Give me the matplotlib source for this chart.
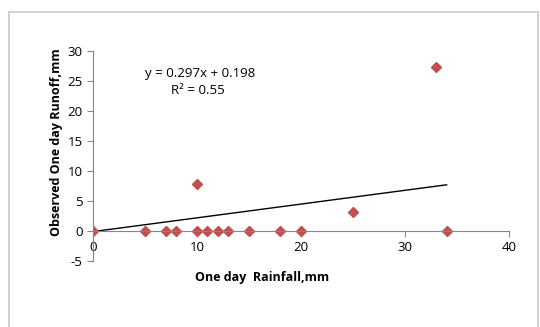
import matplotlib.pyplot as plt
from matplotlib.patches import Rectangle

# rainfall vs observed runoff (mm)
rainfall = [0, 5, 7, 8, 10, 10, 11, 12, 13, 15, 18, 20, 25, 33, 34]
runoff = [0, 0, 0, 0, 0, 7.9, 0, 0, 0, 0, 0, 0, 3.1, 27.4, 0]

# trend line as drawn in the chart
trend_x = [0, 34]
trend_y = [-0.1, 7.7]

x_ticks = [0, 10, 20, 30, 40]
y_ticks = [-5, 0, 5, 10, 15, 20, 25, 30]

plt.rcParams['font.family'] = ['Open Sans', 'DejaVu Sans']
plt.rcParams['axes.unicode_minus'] = False

fig = plt.figure(figsize=(5.4, 3.27), dpi=100)

## outer chart frame
fig.patches.append(Rectangle((9/540, -0.1), 529/540, 1.1 - 12/327,
                             transform=fig.transFigure, fill=False,
                             edgecolor="#c8c8c8", linewidth=1.2))

ax = fig.add_axes([93/540, 1 - 261/327, 416/540, 210/327])

ax.plot(trend_x, trend_y, color="black", linewidth=1)
ax.plot(rainfall, runoff, linestyle="none", marker="D", markersize=5,
        color="#C0504D")

ax.set_xlim(0, 40)
ax.set_ylim(-5, 30)
ax.set_xticks(x_ticks)
ax.set_yticks(y_ticks)

for s in ["top", "right"]:
    ax.spines[s].set_visible(False)
ax.spines["bottom"].set_position(("data", 0))
ax.spines["bottom"].set_color("#868686")
ax.spines["left"].set_color("#868686")
ax.tick_params(colors="#868686", labelcolor="black", labelsize=9.5, length=4)

fig.text(200/540, 1 - 73/327, "y = 0.297x + 0.198",
         ha="center", va="center", fontsize=9.5)
fig.text(198/540, 1 - 90/327, "R² = 0.55",
         ha="center", va="center", fontsize=9.5)

fig.text(262/540, 1 - 278/327, "One day  Rainfall,mm", ha="center",
         va="center", fontsize=9, fontweight="bold")
fig.text(57/540, 1 - 142/327, "Observed One day Runoff,mm", ha="center",
         va="center", rotation=90, fontsize=9, fontweight="bold")

plt.savefig("out.png", dpi=100)
